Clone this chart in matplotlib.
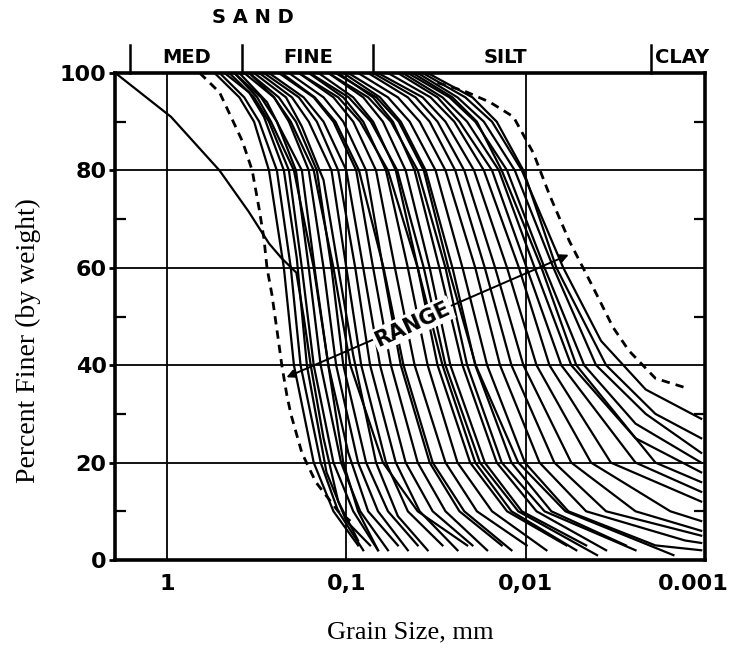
import matplotlib
matplotlib.use("Agg")
import matplotlib.pyplot as plt
import matplotlib.transforms as mtransforms

# grain size (mm) and percent finer, one pair of lists per sample
sand_curves = [
    ([1.94, 0.95, 0.51, 0.35, 0.27, 0.23, 0.19, 0.173, 0.158, 0.134, 0.111, 0.086],
     [100, 91, 80, 71.5, 65, 62, 59, 50, 40, 25, 12, 4]),
    ([0.543, 0.395, 0.327, 0.270, 0.223, 0.196, 0.152, 0.118, 0.086], [100, 95, 90, 80, 60, 40, 20, 10, 3]),
    ([0.509, 0.371, 0.306, 0.244, 0.204, 0.180, 0.139, 0.111, 0.0805], [100, 95, 90, 80, 60, 40, 20, 10, 2]),
    ([0.478, 0.348, 0.288, 0.223, 0.189, 0.166, 0.129, 0.100, 0.0737], [100, 96, 91, 80, 62, 40, 18, 8, 3]),
    ([0.449, 0.327, 0.270, 0.209, 0.177, 0.152, 0.118, 0.0915, 0.0666], [100, 95, 90, 80, 60, 40, 20, 10, 2]),
    ([0.421, 0.314, 0.263, 0.196, 0.152, 0.126, 0.104, 0.086, 0.0666], [100, 95, 90, 80, 60, 40, 20, 10, 2]),
    ([0.421, 0.299, 0.244, 0.191, 0.162, 0.139, 0.107, 0.0837, 0.0586], [100, 95, 90, 80, 60, 40, 20, 10, 2]),
    ([0.395, 0.277, 0.229, 0.177, 0.148, 0.126, 0.0975, 0.0756, 0.0516], [100, 94, 88, 80, 58, 40, 22, 10, 3]),
    ([0.371, 0.253, 0.209, 0.162, 0.134, 0.114, 0.086, 0.0666, 0.0454], [100, 95, 90, 80, 60, 40, 20, 10, 2]),
    ([0.348, 0.253, 0.204, 0.152, 0.118, 0.095, 0.0625, 0.040, 0.0212], [100, 95, 90, 80, 60, 40, 20, 10, 3]),
    ([0.348, 0.238, 0.191, 0.146, 0.121, 0.104, 0.0776, 0.0586, 0.040], [100, 95, 90, 80, 60, 40, 20, 10, 3]),
    ([0.327, 0.217, 0.177, 0.134, 0.111, 0.0915, 0.0683, 0.0516, 0.0352], [100, 95, 89, 78, 60, 42, 20, 9, 2]),
    ([0.306, 0.201, 0.162, 0.121, 0.100, 0.0826, 0.0601, 0.0454, 0.0291], [100, 95, 90, 80, 60, 40, 20, 10, 3]),
    ([0.288, 0.184, 0.146, 0.111, 0.0892, 0.0737, 0.0530, 0.0390, 0.0240], [100, 95, 90, 80, 60, 40, 20, 10, 2]),
    ([0.270, 0.173, 0.134, 0.100, 0.0805, 0.0649, 0.0467, 0.0330, 0.0198], [100, 95, 90, 80, 60, 40, 20, 10, 3]),
    ([0.238, 0.152, 0.118, 0.0881, 0.0709, 0.0564, 0.0400, 0.0280, 0.0164], [100, 95, 90, 80, 60, 40, 20, 10, 2]),
    ([0.230, 0.150, 0.115, 0.085, 0.062, 0.048, 0.033, 0.022, 0.012], [100, 95, 90, 80, 60, 40, 20, 10, 2]),
    ([0.209, 0.134, 0.104, 0.0776, 0.0625, 0.0497, 0.0343, 0.0234, 0.0136], [100, 95, 90, 80, 60, 40, 20, 10, 3]),
]

silt_curves = [
    ([0.184, 0.118, 0.0915, 0.0683, 0.0536, 0.0416, 0.0280, 0.0187, 0.00987], [100, 95, 90, 80, 60, 40, 20, 10, 3]),
    ([0.184, 0.111, 0.0837, 0.0586, 0.0400, 0.0291, 0.0191, 0.0120, 0.00522], [100, 95, 90, 80, 60, 40, 20, 10, 2]),
    ([0.162, 0.104, 0.0805, 0.0601, 0.0454, 0.0352, 0.0240, 0.0154, 0.00766], [100, 95, 90, 80, 60, 40, 20, 10, 2]),
    ([0.160, 0.097, 0.073, 0.052, 0.037, 0.028, 0.018, 0.011, 0.004], [100, 95, 90, 80, 60, 40, 20, 10, 1]),
    ([0.143, 0.0915, 0.0709, 0.0530, 0.0400, 0.0310, 0.0204, 0.0127, 0.00593], [100, 95, 90, 80, 60, 40, 20, 10, 3]),
    ([0.126, 0.0805, 0.0625, 0.0467, 0.0343, 0.0263, 0.0169, 0.0105, 0.0046], [100, 95, 90, 80, 60, 40, 20, 10, 3]),
    ([0.126, 0.0756, 0.0564, 0.0400, 0.0280, 0.0212, 0.0136, 0.00785, 0.00244], [100, 95, 90, 80, 60, 40, 20, 10, 2]),
    ([0.115, 0.068, 0.051, 0.037, 0.027, 0.019, 0.011, 0.006, 0.0015], [100, 95, 90, 80, 60, 40, 20, 10, 1]),
    ([0.111, 0.0709, 0.055, 0.0416, 0.0303, 0.0225, 0.0145, 0.0087, 0.00356], [100, 95, 90, 80, 60, 40, 20, 10, 2]),
    ([0.104, 0.0649, 0.0497, 0.0361, 0.0256, 0.0191, 0.0120, 0.00719, 0.00276], [100, 95, 90, 80, 60, 40, 20, 10, 3]),
    ([0.0975, 0.0586, 0.0443, 0.0318, 0.0225, 0.0164, 0.0101, 0.00578, 0.00189, 0.00105],
     [100, 95, 90, 80, 60, 40, 20, 10, 3, 2]),
    ([0.086, 0.0516, 0.0390, 0.0280, 0.0191, 0.0139, 0.00837, 0.0046, 0.00129, 0.00105],
     [100, 95, 90, 80, 60, 40, 20, 10, 4, 3.5]),
    ([0.0756, 0.0454, 0.0343, 0.0247, 0.0169, 0.0120, 0.00692, 0.00356, 0.00105], [100, 95, 90, 80, 60, 40, 20, 10, 5]),
    ([0.0709, 0.0411, 0.0310, 0.0220, 0.0148, 0.0103, 0.00557, 0.00244, 0.00105], [100, 95, 90, 80, 60, 40, 20, 10, 6]),
    ([0.0666, 0.0375, 0.0280, 0.0194, 0.0127, 0.0087, 0.00432, 0.00156, 0.00105], [100, 95, 90, 80, 60, 40, 20, 10, 8]),
    ([0.0586, 0.0339, 0.0250, 0.0171, 0.0109, 0.00737, 0.00335, 0.00105], [100, 95, 90, 80, 60, 40, 20, 12]),
]

clay_curves = [
    ([0.0516, 0.0310, 0.0234, 0.0154, 0.00987, 0.00633, 0.00244, 0.00105], [100, 95, 90, 80, 60, 40, 20, 14]),
    ([0.0484, 0.0291, 0.0212, 0.0141, 0.00891, 0.00557, 0.00244, 0.00105], [100, 95, 90, 80, 60, 40, 25, 18]),
    ([0.0454, 0.0266, 0.0191, 0.0127, 0.00785, 0.00472, 0.00244, 0.00105], [100, 95, 90, 80, 60, 40, 28, 20]),
    ([0.0426, 0.0256, 0.0187, 0.0136, 0.00816, 0.00522, 0.00189, 0.00105], [100, 95, 90, 80, 60, 40, 20, 16]),
    ([0.0400, 0.0240, 0.0171, 0.0115, 0.00700, 0.00405, 0.00214, 0.00105], [100, 95, 90, 80, 60, 40, 30, 22]),
    ([0.0375, 0.0217, 0.0154, 0.0105, 0.00617, 0.00380, 0.00214, 0.00105], [100, 95, 90, 80, 60, 45, 35, 29]),
    ([0.0352, 0.0198, 0.0145, 0.0103, 0.00674, 0.00356, 0.00189, 0.00105], [100, 95, 90, 80, 60, 40, 30, 25]),
]

# dashed envelope of the range
left_env_size = [0.657, 0.509, 0.380, 0.335, 0.306, 0.288, 0.277, 0.260, 0.238, 0.229,
                 0.215, 0.204, 0.177, 0.148, 0.111, 0.095]
left_env_pct = [100, 96, 86, 80, 72, 66, 60, 54.5, 44.5, 40, 34, 30, 22, 16, 10, 8]
right_env_size = [0.031, 0.0220, 0.0158, 0.0117, 0.00904, 0.00737, 0.00571, 0.00421,
                  0.00326, 0.00266, 0.00189, 0.00124]
right_env_pct = [98, 96.3, 94, 91, 83.5, 75, 65.5, 56, 47.8, 43, 37.3, 35.2]

range_size = [0.223, 0.00557]
range_pct = [37.3, 62.9]

# soil classes along the top
zone_bounds = [1.6, 0.38, 0.071, 0.002]
zone_names = ["MED", "FINE", "SILT", "CLAY"]
zone_label_size = [0.78, 0.164, 0.013, 0.0019]

x_ticks = [1, 0.1, 0.01, 0.001]
x_labels = ["1", "0,1", "0,01", "0.001"]
y_ticks = [0, 20, 40, 60, 80, 100]

fig = plt.figure(figsize=(7.31, 6.55), dpi=100)
ax = fig.add_axes([115 / 731, 95 / 655, 590 / 731, 487 / 655])
ax.set_xscale("log")
ax.set_xlim(1.95, 0.001)
ax.set_ylim(0, 100)

for s, p in sand_curves + silt_curves + clay_curves:
    ax.plot(s, p, color="black", lw=1.6, solid_joinstyle="round", zorder=3)

ax.plot(left_env_size, left_env_pct, color="black", lw=2.0, ls=(0, (3, 2.2)), zorder=3)
ax.plot(right_env_size, right_env_pct, color="black", lw=2.0, ls=(0, (3, 2.2)), zorder=3)

ax.annotate("", xy=(range_size[0], range_pct[0]), xytext=(range_size[1], range_pct[1]),
            arrowprops=dict(arrowstyle="<|-|>", color="black", lw=1.4, mutation_scale=12),
            zorder=4)
ax.text(0.0427, 48.4, "RANGE", rotation=25, ha="center", va="center",
        rotation_mode="anchor", fontsize=15, fontweight="bold", zorder=5,
        bbox=dict(facecolor="white", edgecolor="none", pad=1.5))

# grid and axes
ax.set_xticks(x_ticks)
ax.set_xticklabels(x_labels)
ax.minorticks_off()
ax.set_yticks(y_ticks)
ax.set_yticks([10, 30, 50, 70, 90], minor=True)
ax.grid(True, which="major", color="black", lw=1.3, zorder=1)
for sp in ax.spines.values():
    sp.set_linewidth(2.6)
ax.tick_params(axis="x", which="major", length=0, pad=10, labelsize=16)
ax.tick_params(axis="y", which="major", length=4, width=2, pad=2, labelsize=16)
ax.tick_params(axis="y", which="minor", direction="in", length=8, width=1.6,
               left=True, right=True)
for lbl in ax.get_xticklabels() + ax.get_yticklabels():
    lbl.set_fontweight("bold")
# pull the last label back inside the figure
last = ax.get_xticklabels()[-1]
last.set_transform(last.get_transform() + mtransforms.ScaledTranslation(-0.12, 0, fig.dpi_scale_trans))

# SAND / SILT / CLAY header
trans = ax.get_xaxis_transform()
for b in zone_bounds:
    ax.plot([b, b], [1.0, 1.058], color="black", lw=1.8, transform=trans, clip_on=False)
for name, xs in zip(zone_names, zone_label_size):
    ax.text(xs, 1.032, name, transform=trans, ha="left" if name == "CLAY" else "center",
            va="center", fontsize=14, fontweight="bold")
ax.text(0.33, 1.113, "S A N D", transform=trans, ha="center", va="center",
        fontsize=14, fontweight="bold")

fig.text(28 / 731, 1 - 341 / 655, "Percent Finer (by weight)", rotation=90,
         ha="center", va="center", fontsize=20, family="Liberation Serif")
fig.text(410 / 731, 1 - 632 / 655, "Grain Size, mm", ha="center", va="center",
         fontsize=19, family="Liberation Serif")

fig.savefig("out.png", dpi=100)
